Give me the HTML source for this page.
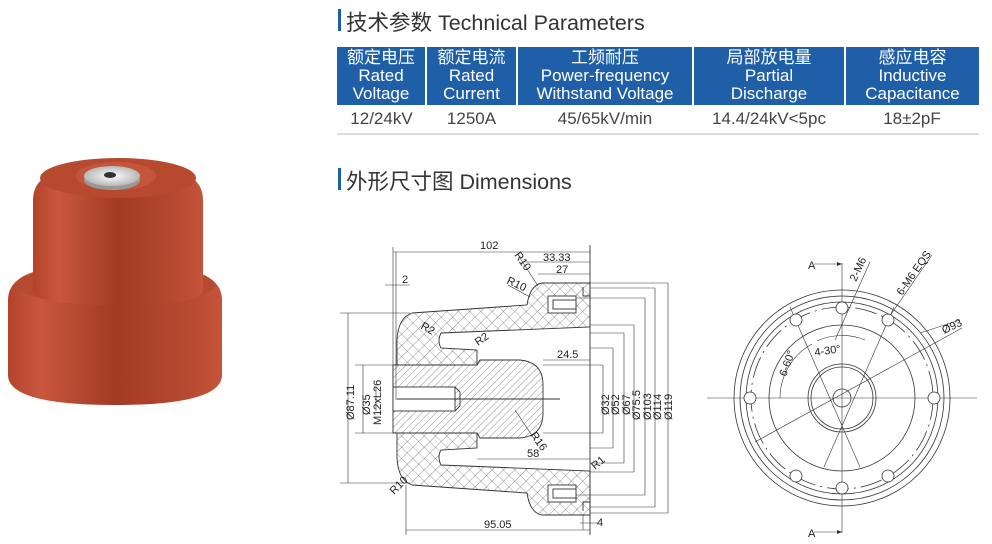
<!DOCTYPE html>
<html><head><meta charset="utf-8"><style>
body{margin:0;width:992px;height:544px;background:#fff;position:relative;overflow:hidden;font-family:"Liberation Sans","Noto Sans CJK SC",sans-serif}
.t{position:absolute;color:#333;font-size:21.5px;white-space:nowrap}
.bar{position:absolute;width:3px;background:#1f5fa8}
table{position:absolute;left:337px;top:47px;width:642px;border-collapse:collapse}
th{background:#1f5fa8;color:#fff;font-weight:normal;font-size:17px;line-height:18px;height:58px;border-left:2px solid #fff;padding:0}
th:first-child{border-left:none}
td{text-align:center;font-size:17px;color:#444;height:28px;padding:0;border-bottom:2px solid #ddd}
</style></head><body>
<div class="bar" style="left:338px;top:9px;height:22px"></div>
<div class="t" style="left:346px;top:6px">技术参数 Technical Parameters</div>
<table>
<tr><th style="width:88px">额定电压<br>Rated<br>Voltage</th><th style="width:89px">额定电流<br>Rated<br>Current</th><th style="width:174px">工频耐压<br>Power-frequency<br>Withstand Voltage</th><th style="width:150px">局部放电量<br>Partial<br>Discharge</th><th>感应电容<br>Inductive<br>Capacitance</th></tr>
<tr><td>12/24kV</td><td>1250A</td><td>45/65kV/min</td><td>14.4/24kV&lt;5pc</td><td>18±2pF</td></tr>
</table>
<div class="bar" style="left:338px;top:168px;height:22px"></div>
<div class="t" style="left:346px;top:165px">外形尺寸图 Dimensions</div>

<svg style="position:absolute;left:0;top:0" width="992" height="544">
<defs>
<linearGradient id="gb" x1="0" x2="1"><stop offset="0" stop-color="#b3432c"/><stop offset=".15" stop-color="#c9573d"/><stop offset=".5" stop-color="#a23a25"/><stop offset=".85" stop-color="#b84a31"/><stop offset="1" stop-color="#c4553b"/></linearGradient>
<radialGradient id="gm"><stop offset="0" stop-color="#fff"/><stop offset="1" stop-color="#b8b8b8"/></radialGradient>
<pattern id="xh" width="8" height="8" patternUnits="userSpaceOnUse" patternTransform="rotate(45)"><path d="M0 0H8M0 0V8" stroke="#444" stroke-width=".6"/></pattern>
<pattern id="dh" width="5" height="5" patternUnits="userSpaceOnUse" patternTransform="rotate(45)"><path d="M0 0V5" stroke="#444" stroke-width=".6"/></pattern>
</defs>
<path d="M8 300 Q8 278 40 270 L190 270 Q222 278 222 300 L222 375 Q222 405 115 405 Q8 405 8 375Z" fill="url(#gb)"/>
<ellipse cx="115" cy="285" rx="100" ry="20" fill="#b64a31"/>
<path d="M33 200 Q33 178 60 170 L176 170 Q203 178 203 200 L203 290 Q203 305 118 305 Q33 305 33 290Z" fill="url(#gb)"/>
<ellipse cx="118" cy="178" rx="78" ry="20" fill="#b7492f"/>
<ellipse cx="116" cy="176" rx="40" ry="14" fill="#c2553b"/>
<ellipse cx="112" cy="180" rx="28" ry="10" fill="#999"/>
<ellipse cx="112" cy="176" rx="28" ry="10" fill="url(#gm)"/>
<ellipse cx="110" cy="175" rx="6" ry="3" fill="#333"/>
<g stroke="#333" stroke-width=".9" fill="none">
<path d="M590 283 L542 283 Q530 285 527 305 L412 313 Q398 318 397 340 L397 365 L477 365 L477 350 L441 348 Q437 341 441 333 L590 327Z" fill="url(#xh)"/>
<path d="M590 515 L542 515 Q530 513 527 493 L412 485 Q398 480 397 458 L397 433 L477 433 L477 448 L441 450 Q437 457 441 465 L590 471Z" fill="url(#xh)"/>
<path d="M393 365 L477 365 L480 360 L520 360 Q543 362 543 385 L543 413 Q543 436 520 438 L480 438 L477 433 L393 433Z" fill="url(#dh)"/>
<rect x="393" y="387" width="62" height="24" fill="#fff"/>
<path d="M455 387 L460 392 L460 406 L455 411 M397 399 H560" />
<rect x="548" y="296" width="28" height="17" fill="#fff"/><rect x="553" y="300" width="23" height="9" fill="#fff"/>
<rect x="548" y="485" width="28" height="17" fill="#fff"/><rect x="553" y="489" width="23" height="9" fill="#fff"/>
<path d="M583 287 V296 H590 M583 511 V502 H590"/>
<path d="M590 245 V535"/>
</g>
<g stroke="#333" stroke-width=".6" fill="none">
<path d="M393 252 H590 M393 247 V400 M396 252 V400 M385 285 H410 M525 262 H590 M538 274 H590 M543 360 H590 M477 459 H590 M406 530 H590 M406 485 V535 M580 523 H598 M583 515 V530"/>
<path d="M348 313 V483 M340 313 H410 M340 483 H410 M363 365 V433 M355 365 H393 M355 433 H393 M376 387 V411"/>
<path d="M603 365 V433 M613 348 V448 M624 333 V463 M634 325 V472 M645 298 V495 M655 288 V507 M668 283 V513"/>
<path d="M543 365 H603 M543 433 H603 M590 348 H613 M590 448 H613 M590 333 H624 M590 463 H624 M590 325 H634 M590 472 H634 M576 298 H645 M576 495 H645 M590 288 H655 M590 507 H655 M590 283 H668 M590 513 H668"/>
<path d="M520 258 L538 286 M508 285 L530 297 M515 410 L535 440"/>
</g>
<g font-size="11" fill="#222">
<text x="480" y="249">102</text><text x="543" y="261">33.33</text><text x="556" y="273">27</text>
<text x="402" y="283">2</text><text x="557" y="358">24.5</text><text x="527" y="457">58</text>
<text x="484" y="528">95.05</text><text x="597" y="526">4</text>
<text transform="translate(514 255) rotate(55)">R10</text>
<text transform="translate(506 283) rotate(25)">R10</text>
<text transform="translate(420 328) rotate(30)">R2</text>
<text transform="translate(478 346) rotate(-35)">R2</text>
<text transform="translate(530 435) rotate(55)">R16</text>
<text transform="translate(595 470) rotate(-40)">R1</text>
<text transform="translate(394 495) rotate(-45)">R10</text>
<text transform="translate(354 420) rotate(-90)">Ø87.11</text>
<text transform="translate(370 415) rotate(-90)">Ø35</text>
<text transform="translate(381 425) rotate(-90)">M12xL26</text>
<text transform="translate(609 415) rotate(-90)">Ø32</text>
<text transform="translate(619 415) rotate(-90)">Ø52</text>
<text transform="translate(630 415) rotate(-90)">Ø67</text>
<text transform="translate(640 420) rotate(-90)">Ø75.5</text>
<text transform="translate(651 420) rotate(-90)">Ø103</text>
<text transform="translate(661 420) rotate(-90)">Ø114</text>
<text transform="translate(672 420) rotate(-90)">Ø119</text>
</g>
<g stroke="#333" stroke-width=".8" fill="none">
<circle cx="842" cy="398" r="108"/><circle cx="842" cy="398" r="102"/><circle cx="842" cy="398" r="96"/>
<circle cx="842" cy="398" r="91" stroke-dasharray="22 5 2 5"/>
<circle cx="842" cy="398" r="73"/><circle cx="842" cy="398" r="34"/><circle cx="842" cy="398" r="31"/><circle cx="842" cy="398" r="9"/>
<path d="M707 398 H977 M842 263 V533 M814 264 H842 M814 532 H842 M755 442 L962 328 M790 307 L860 467 M894 307 L824 467 M842 320 L842 476" stroke-width=".6"/>
<path d="M835 340 L870 262 M887 320 L932 255 M920 333 L960 320" stroke-width=".6"/>
<path d="M780 398 A62 62 0 0 1 812 344 M817 341 A60 60 0 0 1 865 340" stroke-width=".6"/>
<g fill="#fff"><circle cx="842" cy="308" r="6"/><circle cx="842" cy="488" r="6"/><circle cx="796" cy="320" r="6"/><circle cx="888" cy="320" r="6"/><circle cx="796" cy="476" r="6"/><circle cx="888" cy="476" r="6"/><circle cx="750" cy="398" r="6"/><circle cx="934" cy="398" r="6"/></g>
</g>
<path d="M842 264 l-5 -2 v4z M842 532 l-5 -2 v4z" fill="#333"/>
<g font-size="11" fill="#222">
<text x="808" y="269">A</text><text x="808" y="537">A</text>
<text transform="translate(856 282) rotate(-65)">2-M6</text>
<text transform="translate(902 296) rotate(-55)">6-M6 EQS</text>
<text transform="translate(944 334) rotate(-25)">Ø93</text>
<text transform="translate(786 377) rotate(-70)">6-60°</text>
<text transform="translate(815 356) rotate(-8)">4-30°</text>
</g>
</svg>
</body></html>
